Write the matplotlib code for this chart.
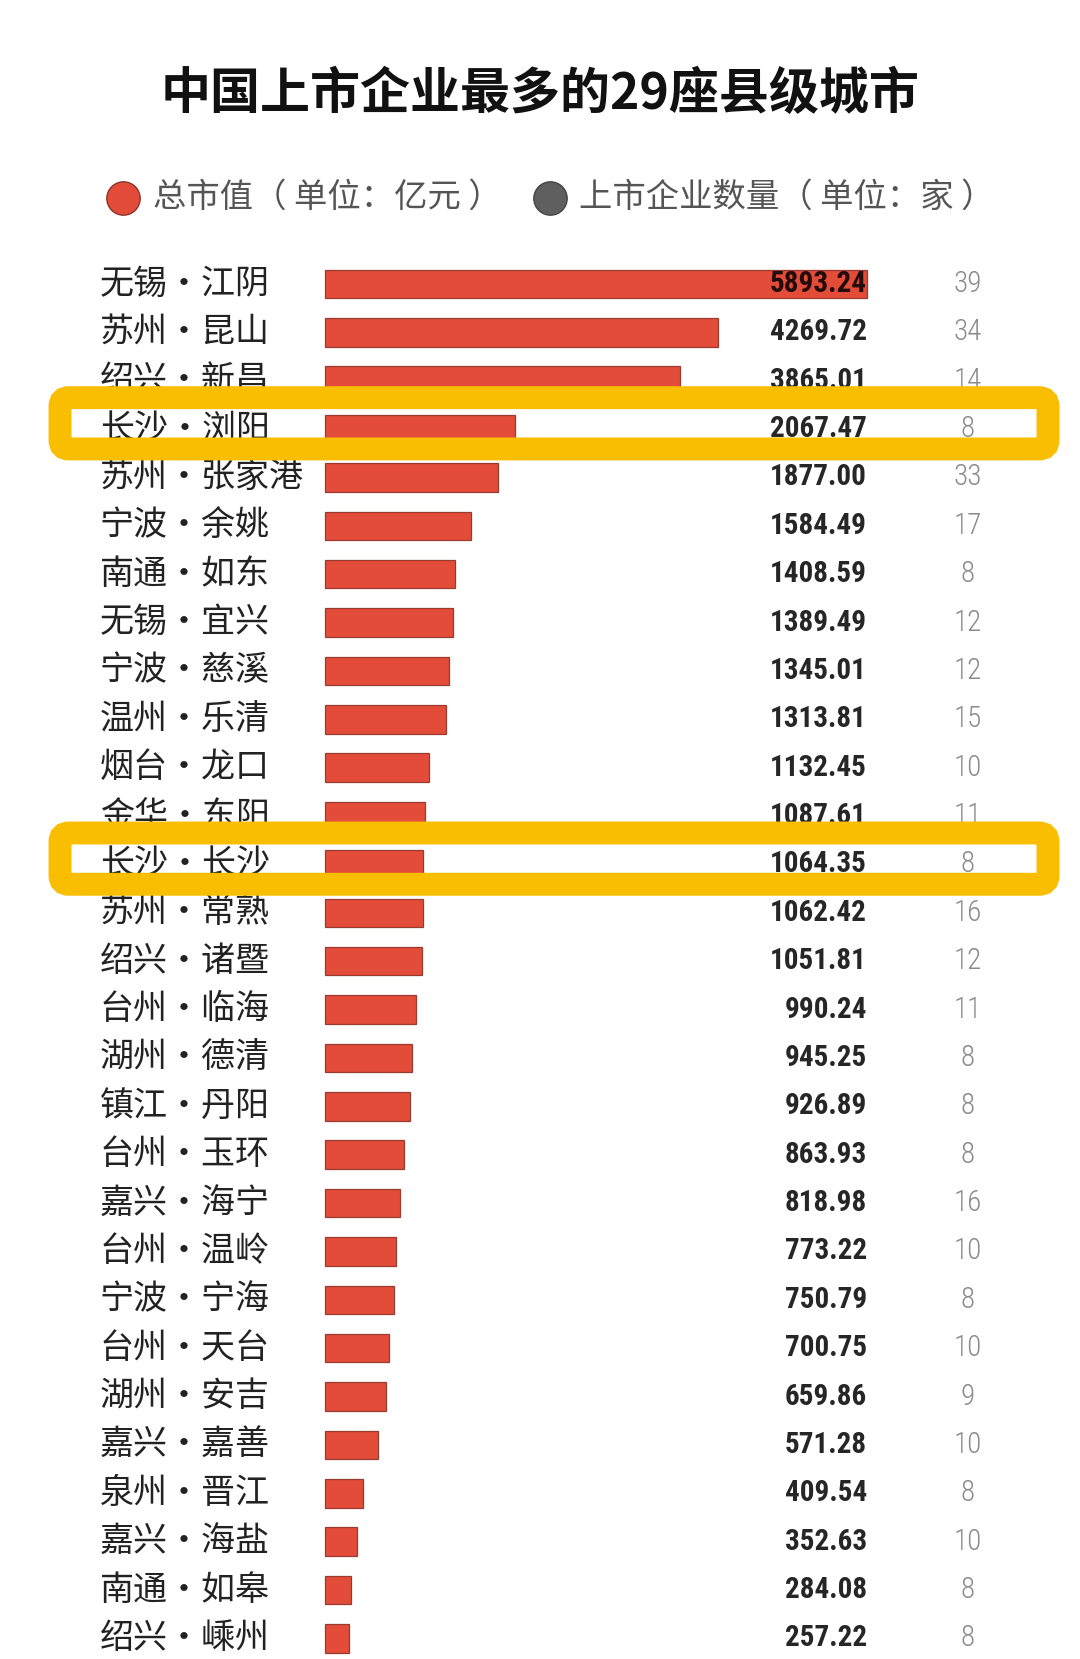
import matplotlib
matplotlib.use('Agg')
import matplotlib.pyplot as plt
from matplotlib.patches import FancyBboxPatch
from matplotlib.lines import Line2D
from matplotlib.transforms import IdentityTransform, blended_transform_factory

# ---------------- data ----------------
cities = ['无锡·江阴', '苏州·昆山', '绍兴·新昌', '长沙·浏阳', '苏州·张家港',
          '宁波·余姚', '南通·如东', '无锡·宜兴', '宁波·慈溪', '温州·乐清',
          '烟台·龙口', '金华·东阳', '长沙·长沙', '苏州·常熟', '绍兴·诸暨',
          '台州·临海', '湖州·德清', '镇江·丹阳', '台州·玉环', '嘉兴·海宁',
          '台州·温岭', '宁波·宁海', '台州·天台', '湖州·安吉', '嘉兴·嘉善',
          '泉州·晋江', '嘉兴·海盐', '南通·如皋', '绍兴·嵊州']
market_cap = [5893.24, 4269.72, 3865.01, 2067.47, 1877.00, 1584.49, 1408.59, 1389.49,
              1345.01, 1313.81, 1132.45, 1087.61, 1064.35, 1062.42, 1051.81, 990.24,
              945.25, 926.89, 863.93, 818.98, 773.22, 750.79, 700.75, 659.86, 571.28,
              409.54, 352.63, 284.08, 257.22]
company_count = [39, 34, 14, 8, 33, 17, 8, 12, 12, 15, 10, 11, 8, 16, 12, 11, 8, 8, 8,
                 16, 10, 8, 10, 9, 10, 8, 10, 8, 8]
highlight = ['长沙·浏阳', '长沙·长沙']

title = '中国上市企业最多的29座县级城市'
legend_labels = ['总市值（ 单位：亿元 ）', '上市企业数量（ 单位：家 ）']
legend_colors = ['#E44C3A', '#5f5f5f']

# ---------------- style ----------------
cjk = ['Noto Sans CJK SC', 'DejaVu Sans']
num = ['Roboto Condensed', 'DejaVu Sans']
plt.rcParams['font.family'] = cjk

W, H = 1080, 1659
fig = plt.figure(figsize=(W / 100, H / 100), dpi=100)
fig.patch.set_facecolor('white')
ax = fig.add_axes([0, 0, 1, 1])
ax.axis('off')

x0_px, xend_px = 325, 867
scale = (xend_px - x0_px) / max(market_cap)
ax.set_xlim(-x0_px / scale, (W - x0_px) / scale)
row0, pitch = 284, 48.37
ax.set_ylim((H - row0) / pitch, -row0 / pitch)

ypos = list(range(len(cities)))
ax.barh(ypos, market_cap, height=0.59, color='#E44C3A', edgecolor='#9a3b30',
        linewidth=0.9, zorder=2)

bt = blended_transform_factory(fig.transFigure, ax.transData)
for i, (c, v, n) in enumerate(zip(cities, market_cap, company_count)):
    ax.text(100 / W, i, c, transform=bt, ha='left', va='center', fontsize=24.5,
            family=cjk, fontweight='light', color='#222222', zorder=3)
    ax.text(867 / W, i, f'{v:.2f}', transform=bt, ha='right', va='center',
            fontsize=21, family=num, fontstretch='condensed', fontweight='bold',
            color='#000000', alpha=0.85, zorder=3)
    ax.text(968 / W, i, str(n), transform=bt, ha='center', va='center',
            fontsize=21, family=num, fontstretch='condensed', fontweight='light',
            color='#8a8a8a', zorder=3)

# highlight frames
for name in highlight:
    i = cities.index(name)
    yc = i - 0.12
    y_top = ax.transData.transform((0, yc - 0.53))[1]
    y_bot = ax.transData.transform((0, yc + 0.53))[1]
    left, right = 60, 1048
    box = FancyBboxPatch((left, y_bot), right - left, y_top - y_bot,
                         boxstyle='round,pad=0,rounding_size=9',
                         transform=IdentityTransform(), fill=False,
                         edgecolor='#F9BE00', linewidth=16.5, zorder=10)
    fig.add_artist(box)

# title
fig.text(0.5, 1 - 94 / H, title, ha='center', va='center', fontsize=36,
         fontweight='bold', color='#111111', family=cjk)

# legend
leg_x = [(123, 153), (550, 579)]
for (cx, tx), lab, col in zip(leg_x, legend_labels, legend_colors):
    fig.add_artist(Line2D([cx / W], [1 - 198 / H], marker='o', markersize=24,
                          color=col, markeredgecolor='#8a3328' if col == '#E44C3A' else '#444444',
                          markeredgewidth=1, transform=fig.transFigure, linestyle='none'))
    fig.text(tx / W, 1 - 197 / H, lab, ha='left', va='center', fontsize=24,
             fontweight='light', color='#555555', family=cjk)

fig.savefig('out.png', dpi=100, facecolor='white')
